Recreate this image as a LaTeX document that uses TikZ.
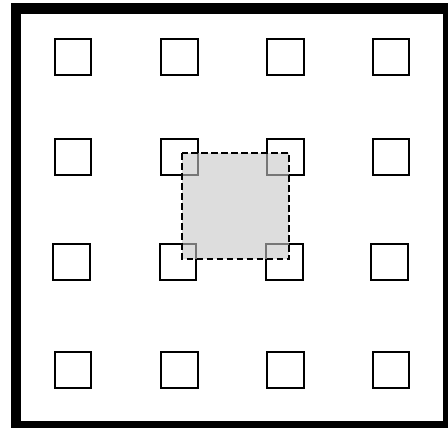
\documentclass[tikz,border=0pt]{standalone}
\begin{document}
\begin{tikzpicture}[x=1pt,y=-1pt,
  cell/.style={draw=black,line width=2pt,fill=none,minimum width=36.5pt,minimum height=36.5pt,inner sep=0pt,outer sep=0pt},
  region/.style={draw=black,line width=1.8pt,dash pattern=on 6.5pt off 3.5pt,fill={rgb,255:red,198;green,198;blue,198},fill opacity=0.6,draw opacity=1}]
\useasboundingbox (0,0) rectangle (448,428);
\clip (0,0) rectangle (448,428);
\draw[line width=10.5pt] (15.75,8.5) rectangle (447.75,425.75);
\foreach \c/\x in {1/73,2/179.5,3/285.7,4/391}{
  \node[cell] (s1\c) at (\x,57) {};
  \node[cell] (s2\c) at (\x,157) {};
  \node[cell] (s3\c) at (\x-1.3,262) {};
  \node[cell] (s4\c) at (\x,370) {};
}
\path[region] (182.3,153.3) rectangle (289.3,259);
\end{tikzpicture}
\end{document}
